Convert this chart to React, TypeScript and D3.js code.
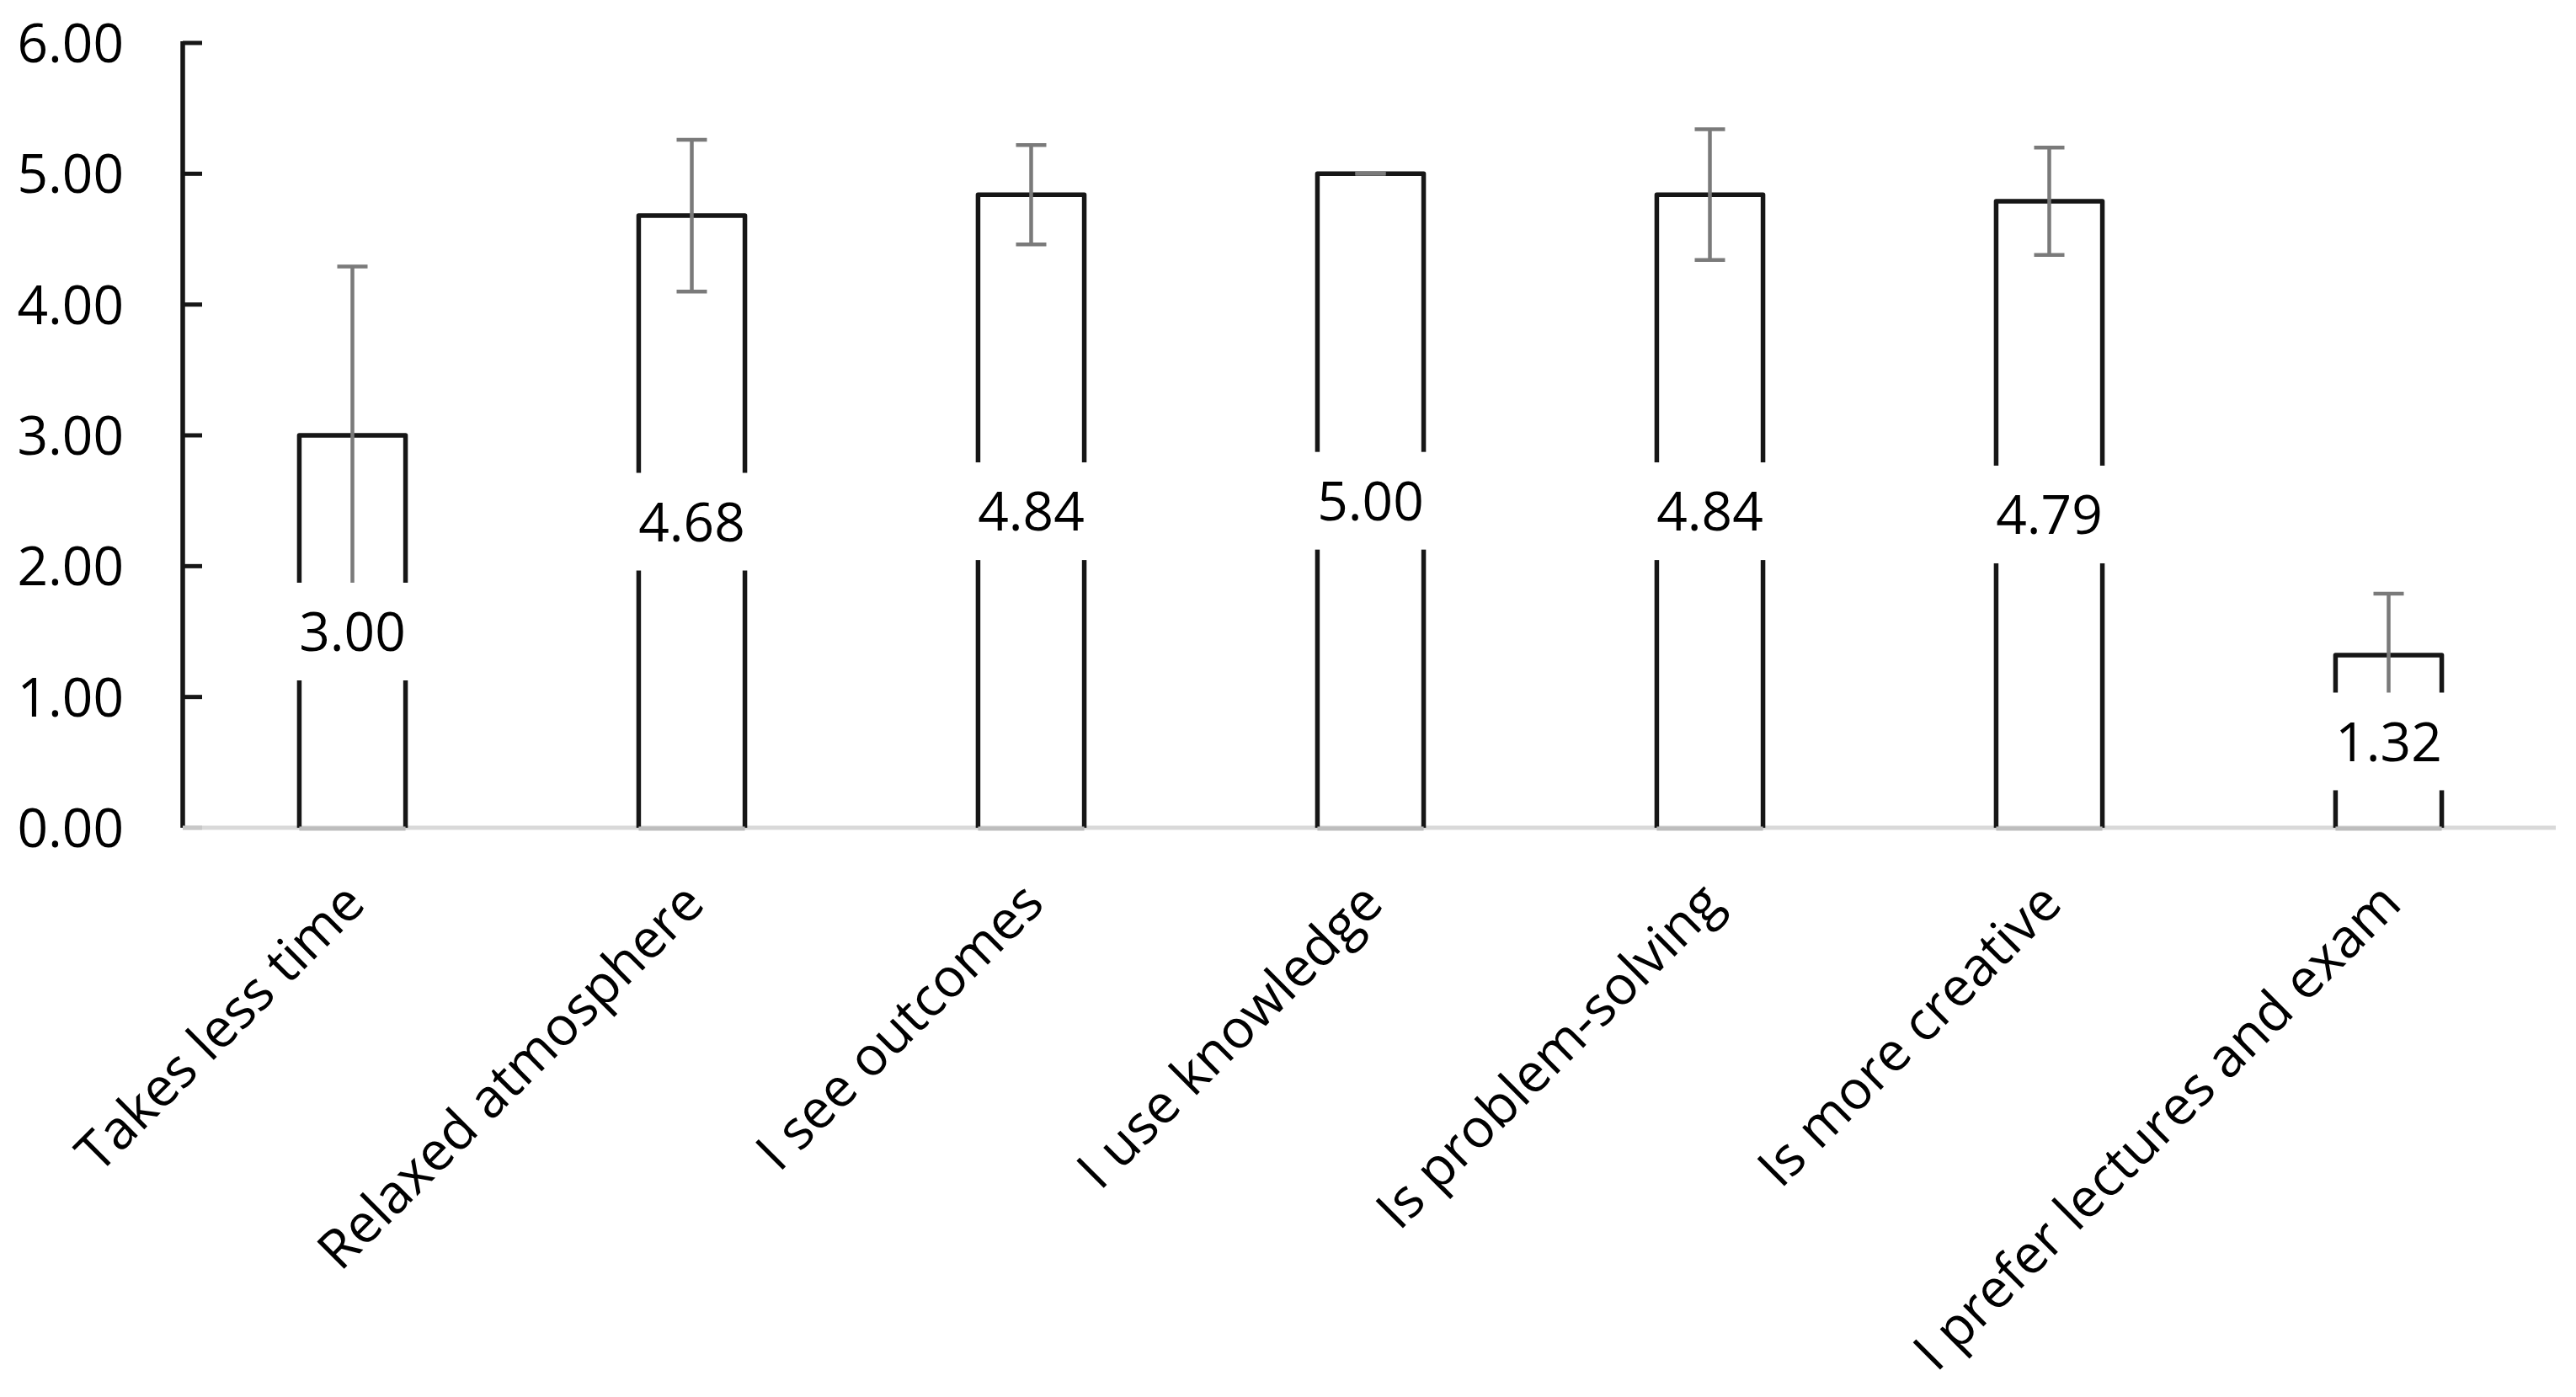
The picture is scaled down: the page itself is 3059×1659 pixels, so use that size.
import React, { useEffect, useRef } from "react";
import * as d3 from "d3";

const categories = [
  "Takes less time",
  "Relaxed atmosphere",
  "I see outcomes",
  "I use knowledge",
  "Is problem-solving",
  "Is more creative",
  "I prefer lectures and exam",
];
const means = [3.0, 4.68, 4.84, 5.0, 4.84, 4.79, 1.32];
const errors = [1.29, 0.58, 0.38, 0.0, 0.5, 0.41, 0.47];
const yTicks = [0, 1, 2, 3, 4, 5, 6];

const W = 3059;
const H = 1659;
const FONT = "'Open Sans', sans-serif";

export default function App() {
  const ref = useRef<SVGSVGElement | null>(null);

  useEffect(() => {
    document.body.style.margin = "0";
    const svg = d3.select(ref.current);
    svg.selectAll("*").remove();

    const x0 = 217;
    const step = 403;
    const x = d3
      .scaleBand<string>()
      .domain(categories)
      .range([x0, x0 + step * categories.length])
      .paddingInner(0.687)
      .paddingOuter(0.3435);
    const y = d3.scaleLinear().domain([0, 6]).range([983, 51]);
    const bw = x.bandwidth();

    const g = svg.append("g");

    // x axis baseline
    g.append("line")
      .attr("x1", x0)
      .attr("x2", x.range()[1] - 3)
      .attr("y1", y(0))
      .attr("y2", y(0))
      .attr("stroke", "#d9d9d9")
      .attr("stroke-width", 5);

    // bars (three sides)
    categories.forEach((c, i) => {
      const bx = x(c)!;
      const top = y(means[i]);
      g.append("path")
        .attr("d", `M${bx},${y(0)} L${bx},${top} L${bx + bw},${top} L${bx + bw},${y(0)}`)
        .attr("fill", "none")
        .attr("stroke", "#161616")
        .attr("stroke-width", 5.5)
        .attr("stroke-linejoin", "round");
      g.append("line")
        .attr("x1", bx)
        .attr("x2", bx + bw)
        .attr("y1", y(0) + 1)
        .attr("y2", y(0) + 1)
        .attr("stroke", "#bdbdbd")
        .attr("stroke-width", 5);
    });

    // error bars
    const capW = 36;
    categories.forEach((c, i) => {
      const cx = x(c)! + bw / 2;
      const hi = y(means[i] + errors[i]);
      const lo = y(means[i] - errors[i]);
      const eg = g.append("g").attr("stroke", "#7a7a7a").attr("stroke-width", 4.5);
      eg.append("line").attr("x1", cx).attr("x2", cx).attr("y1", hi).attr("y2", lo);
      eg.append("line").attr("x1", cx - capW / 2).attr("x2", cx + capW / 2).attr("y1", hi).attr("y2", hi);
      eg.append("line").attr("x1", cx - capW / 2).attr("x2", cx + capW / 2).attr("y1", lo).attr("y2", lo);
    });

    // value labels
    const fmt = d3.format(".2f");
    categories.forEach((c, i) => {
      const cx = x(c)! + bw / 2;
      const cy = y(means[i] / 2);
      g.append("rect")
        .attr("x", cx - 76)
        .attr("y", cy - 58)
        .attr("width", 152)
        .attr("height", 116)
        .attr("fill", "#ffffff");
      g.append("text")
        .attr("x", cx)
        .attr("y", cy)
        .attr("dy", "0.36em")
        .attr("text-anchor", "middle")
        .attr("font-family", FONT)
        .attr("font-size", 64)
        .attr("fill", "#000")
        .text(fmt(means[i]));
    });

    // y axis
    g.append("line")
      .attr("x1", x0)
      .attr("x2", x0)
      .attr("y1", y(6) - 2)
      .attr("y2", y(0))
      .attr("stroke", "#161616")
      .attr("stroke-width", 5.5);
    yTicks.forEach((t) => {
      g.append("line")
        .attr("x1", x0)
        .attr("x2", x0 + 23)
        .attr("y1", y(t))
        .attr("y2", y(t))
        .attr("stroke", t === 0 ? "#c8c8c8" : "#161616")
        .attr("stroke-width", 5);
      g.append("text")
        .attr("x", 147)
        .attr("y", y(t))
        .attr("dy", "0.36em")
        .attr("text-anchor", "end")
        .attr("font-family", FONT)
        .attr("font-size", 64)
        .attr("fill", "#000")
        .text(fmt(t));
    });

    // x labels
    categories.forEach((c) => {
      const cx = x(c)! + bw / 2;
      g.append("text")
        .attr("transform", `translate(${cx + 18},${y(0) + 93}) rotate(-45)`)
        .attr("text-anchor", "end")
        .attr("font-family", FONT)
        .attr("font-size", 64)
        .attr("fill", "#000")
        .text(c);
    });
  }, []);

  return (
    <svg
      ref={ref}
      width={W}
      height={H}
      viewBox={`0 0 ${W} ${H}`}
      style={{ display: "block", background: "#ffffff", position: "absolute", left: 0, top: 0 }}
    />
  );
}
